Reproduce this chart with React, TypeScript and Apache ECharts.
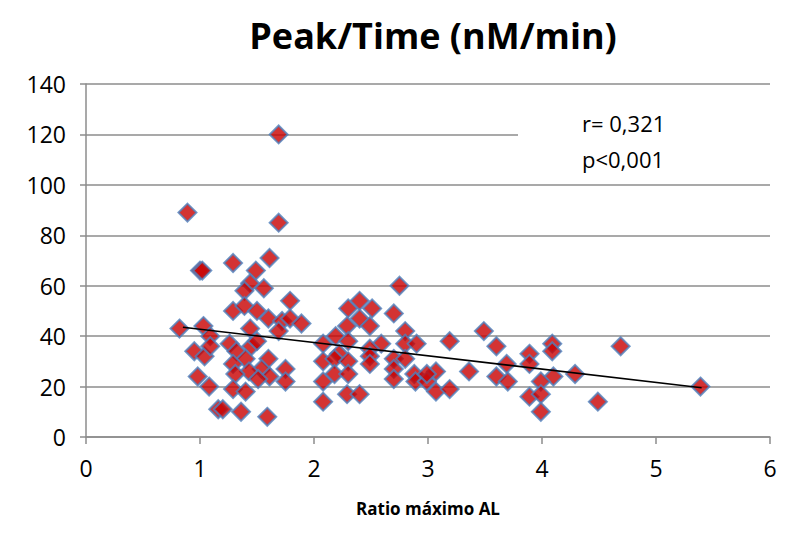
import React, { useEffect, useRef } from "react";
import * as echarts from "echarts";

const TITLE = "Peak/Time (nM/min)";
const X_NAME = "Ratio máximo AL";
const NOTE_LINES = ["r= 0,321", "p<0,001"];

const xValues = [
  0.82, 0.89, 0.95, 0.98, 1.0, 1.02, 1.03, 1.04, 1.09, 1.09, 1.08, 1.16,
  1.29, 1.61, 1.49, 1.44, 1.39, 1.56, 1.79, 1.29, 1.39, 1.5, 1.6, 1.72,
  1.79, 1.89, 1.44, 1.69, 1.26, 1.32, 1.45, 1.5, 1.4, 1.29, 1.6, 1.54,
  1.43, 1.75, 1.31, 1.61, 1.51, 1.75, 1.29, 1.4, 1.2, 1.36, 1.59, 1.69,
  1.69, 2.08, 2.08, 2.08, 2.08, 2.75, 2.3, 2.4, 2.51, 2.7, 2.4, 2.29,
  2.49, 2.19, 2.3, 2.59, 2.8, 2.8, 2.9, 2.49, 2.22, 2.49, 2.18, 2.3,
  2.7, 2.8, 2.49, 2.7, 2.18, 2.3, 2.7, 2.88, 2.89, 2.99, 3.07, 3.07,
  2.29, 2.4, 3.49, 3.19, 3.6, 3.89, 4.09, 4.09, 3.69, 3.89, 3.36, 2.99,
  3.6, 3.7, 4.1, 3.99, 3.19, 3.89, 3.99, 3.99, 4.69, 4.29, 4.49, 5.39,
];
const yValues = [
  43, 89, 34, 24, 66, 66, 44, 32, 40, 36, 20, 11,
  69, 71, 66, 61, 58, 59, 54, 50, 52, 50, 47, 46,
  47, 45, 43, 42, 37, 34, 36, 38, 31, 29, 31, 27,
  26, 27, 25, 24, 23, 22, 19, 18, 11, 10, 8, 120,
  85, 37, 30, 22, 14, 60, 51, 54, 51, 49, 47, 44,
  44, 40, 38, 37, 42, 37, 37, 35, 33, 32, 31, 30,
  31, 31, 29, 27, 25, 25, 23, 25, 22, 22, 26, 18,
  17, 17, 42, 38, 36, 33, 37, 34, 29, 29, 26, 25,
  24, 22, 24, 22, 19, 16, 17, 10, 36, 25, 14, 20,
];

// trend line: y = intercept + slope * x, from xStart to xEnd
const TREND_RANGE = [0.85, 5.4];
const TREND_INTERCEPT = 48;
const TREND_SLOPE = -5.27;

const X_TICKS = [0, 1, 2, 3, 4, 5, 6];
const Y_TICKS = [0, 20, 40, 60, 80, 100, 120, 140];

const FONT = "'Open Sans', 'Noto Sans', sans-serif";
const GRID_COLOR = "#8c8c8c";

export default function App() {
  const ref = useRef<HTMLDivElement>(null);
  useEffect(() => {
    if (!ref.current) return;
    const chart = echarts.init(ref.current, null, { renderer: "svg" });
    const points = xValues.map((x, i) => [x, yValues[i]]);
    const trend = TREND_RANGE.map((x) => [x, TREND_INTERCEPT + TREND_SLOPE * x]);
    chart.setOption({
      animation: false,
      backgroundColor: "#ffffff",
      title: {
        text: TITLE,
        left: 428,
        textAlign: "center",
        top: 12,
        textStyle: { fontFamily: FONT, fontWeight: "bold", fontSize: 36, color: "#000" },
      },
      grid: { left: 86, right: 18, top: 84, bottom: 99 },
      xAxis: {
        type: "value",
        min: X_TICKS[0],
        max: X_TICKS[X_TICKS.length - 1],
        interval: 1,
        name: X_NAME,
        nameLocation: "middle",
        nameGap: 63,
        nameTextStyle: { fontFamily: FONT, fontWeight: "bold", fontSize: 17, color: "#000" },
        axisLine: { show: true, lineStyle: { color: GRID_COLOR, width: 1.5 } },
        axisTick: { show: true, length: 7, lineStyle: { color: GRID_COLOR, width: 1.5 } },
        axisLabel: { fontFamily: FONT, fontSize: 23, color: "#000", margin: 19 },
        splitLine: { show: false },
      },
      yAxis: {
        type: "value",
        min: Y_TICKS[0],
        max: Y_TICKS[Y_TICKS.length - 1],
        interval: 20,
        axisLine: { show: true, lineStyle: { color: GRID_COLOR, width: 1.5 } },
        axisTick: { show: true, length: 6, lineStyle: { color: GRID_COLOR, width: 1.5 } },
        axisLabel: { fontFamily: FONT, fontSize: 23, color: "#000", margin: 20 },
        splitLine: { show: true, lineStyle: { color: GRID_COLOR, width: 1.5 } },
      },
      graphic: [
        {
          type: "rect",
          left: 518,
          top: 96,
          shape: { width: 252, height: 78 },
          style: { fill: "#ffffff" },
          z: 5,
        },
        {
          type: "text",
          left: 582,
          top: 105,
          z: 6,
          style: {
            text: NOTE_LINES.join("\n"),
            font: `22px ${FONT}`,
            lineHeight: 36,
            fill: "#000",
          },
        },
      ],
      series: [
        {
          type: "scatter",
          data: points,
          symbol: "diamond",
          symbolSize: 18,
          itemStyle: { color: "#c80000", borderColor: "#4f81bd", borderWidth: 2 },
          z: 3,
        },
        {
          type: "line",
          data: trend,
          showSymbol: false,
          symbol: "none",
          lineStyle: { color: "#000", width: 1.6 },
          z: 4,
        },
      ],
    });
    return () => chart.dispose();
  }, []);
  return <div ref={ref} style={{ width: 788, height: 536, position: "absolute", left: 0, top: 0 }} />;
}
